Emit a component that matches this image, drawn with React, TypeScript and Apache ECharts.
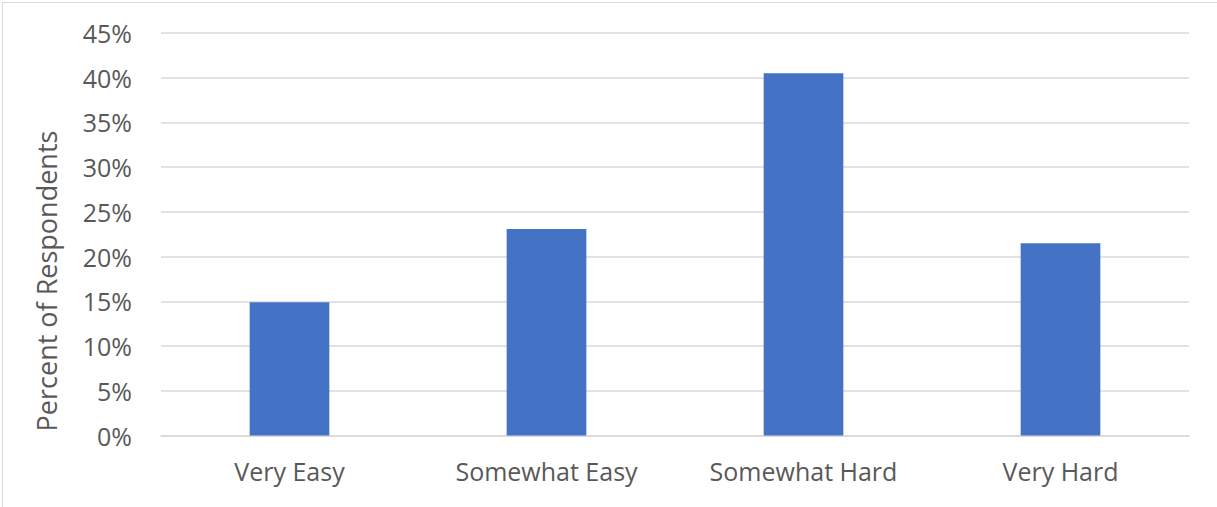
import React, { useEffect, useRef } from "react";
import * as echarts from "echarts";

const categories = ["Very Easy", "Somewhat Easy", "Somewhat Hard", "Very Hard"];
const percentValues = [14.9, 23.1, 40.5, 21.5];
const yAxisTitle = "Percent of Respondents";

const FONT = "'Open Sans', 'Noto Sans', sans-serif";
const TEXT_COLOR = "#595959";

export default function App() {
  const ref = useRef<HTMLDivElement>(null);

  useEffect(() => {
    if (!ref.current) return;
    const chart = echarts.init(ref.current, undefined, { renderer: "svg" });
    chart.setOption({
      animation: false,
      backgroundColor: "#ffffff",
      grid: { left: 161, right: 28, top: 33, bottom: 71.5, containLabel: false },
      xAxis: {
        type: "category",
        data: categories,
        axisLine: { show: true, lineStyle: { color: "#D9D9D9", width: 1.5 } },
        axisTick: { show: false },
        axisLabel: {
          color: TEXT_COLOR,
          fontFamily: FONT,
          fontSize: 25,
          margin: 23,
        },
      },
      yAxis: {
        type: "value",
        min: 0,
        max: 45,
        interval: 5,
        axisLine: { show: false },
        axisTick: { show: false },
        splitLine: { lineStyle: { color: "#D9D9D9", width: 1.5 } },
        axisLabel: {
          formatter: "{value}%",
          color: TEXT_COLOR,
          fontFamily: FONT,
          fontSize: 25,
          margin: 29,
        },
      },
      graphic: [
        {
          type: "rect",
          shape: { x: 2.5, y: 2.5, width: 1240, height: 540 },
          style: { fill: "none", stroke: "#D9D9D9", lineWidth: 1 },
          silent: true,
        },
        {
          type: "text",
          x: 46,
          y: 281,
          rotation: Math.PI / 2,
          style: {
            text: yAxisTitle,
            fill: TEXT_COLOR,
            font: `27px ${FONT}`,
            align: "center",
            verticalAlign: "middle",
          },
        },
      ],
      series: [
        {
          type: "bar",
          data: percentValues,
          barWidth: "31%",
          itemStyle: { color: "#4472C4" },
        },
      ],
    });
    return () => chart.dispose();
  }, []);

  return (
    <div
      ref={ref}
      style={{ position: "fixed", left: 0, top: 0, width: 1217, height: 507 }}
    />
  );
}
